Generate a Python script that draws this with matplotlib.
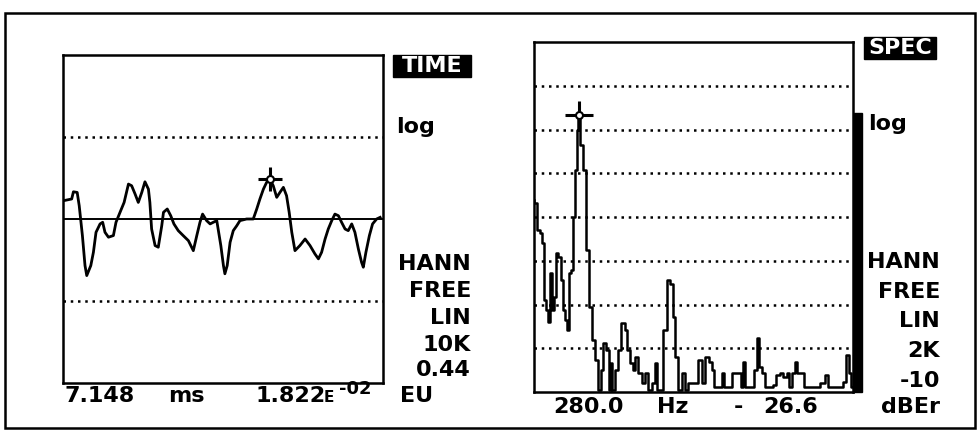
import numpy as np
import matplotlib
matplotlib.use("Agg")
import matplotlib.pyplot as plt
from matplotlib.patches import Rectangle

W, H = 977, 438

# time record: ms, normalised amplitude (full scale = 1)
t_ms = [0.00, 0.30, 0.36, 0.49, 0.56, 0.67, 0.76, 0.82, 0.96, 1.05, 1.14, 1.28,
        1.37, 1.45, 1.57, 1.74, 1.83, 1.97, 2.11, 2.26, 2.37, 2.49, 2.60, 2.72,
        2.83, 2.95, 3.00, 3.06, 3.18, 3.29, 3.41, 3.47, 3.60, 3.72, 3.83, 3.98,
        4.15, 4.33, 4.50, 4.62, 4.73, 4.82, 4.96, 5.08, 5.19, 5.31, 5.45, 5.54,
        5.59, 5.67, 5.77, 5.88, 6.00, 6.11, 6.34, 6.57, 6.69, 6.80, 6.92, 7.03,
        7.148, 7.26, 7.38, 7.49, 7.61, 7.72, 7.81, 7.90, 8.01, 8.18, 8.36, 8.53,
        8.70, 8.82, 8.93, 9.05, 9.16, 9.28, 9.39, 9.51, 9.62, 9.74, 9.85, 9.97,
        10.08, 10.20, 10.31, 10.37, 10.46, 10.58, 10.69, 10.83, 10.95]
amp = [0.111, 0.122, 0.166, 0.162, 0.081, -0.101, -0.284, -0.345, -0.284, -0.203,
       -0.081, -0.030, -0.020, -0.081, -0.111, -0.101, -0.020, 0.041, 0.101, 0.213,
       0.203, 0.152, 0.101, 0.162, 0.227, 0.182, 0.101, -0.061, -0.162, -0.172,
       -0.041, 0.041, 0.061, 0.020, -0.030, -0.071, -0.101, -0.132, -0.193, -0.101,
       -0.020, 0.030, -0.010, -0.030, -0.020, -0.010, -0.162, -0.284, -0.334, -0.284,
       -0.142, -0.071, -0.041, -0.010, 0.000, 0.000, 0.061, 0.122, 0.182, 0.223,
       0.243, 0.203, 0.132, 0.162, 0.193, 0.142, 0.041, -0.081, -0.193, -0.162,
       -0.122, -0.162, -0.213, -0.243, -0.203, -0.122, -0.061, -0.010, 0.030, 0.020,
       -0.020, -0.061, -0.071, -0.030, -0.081, -0.183, -0.264, -0.294, -0.203, -0.101,
       -0.030, 0.000, 0.010]

# spectrum: Hz, dBEr
freq_hz = [0, 6, 27, 48, 58, 69, 80, 90, 105, 117, 132, 142, 159, 174, 184, 201,
           215, 226, 243, 251, 263, 272, 280, 300, 320, 334, 356, 372, 393, 414,
           424, 439, 460, 476, 487, 497, 519, 539, 556, 581, 591, 613, 627, 644,
           665, 685, 707, 727, 748, 769, 779, 801, 821, 842, 863, 878, 895, 915,
           936, 953, 978, 1020, 1041, 1062, 1087, 1104, 1124, 1135, 1166, 1187,
           1198, 1229, 1260, 1292, 1302, 1317, 1334, 1365, 1396, 1406, 1417, 1438,
           1455, 1480, 1511, 1526, 1553, 1574, 1595, 1605, 1626, 1643, 1657, 1689,
           1699, 1730, 1773, 1814, 1835, 1856, 1898, 1929, 1950, 1964, 1981, 1996]
level_db = [-46.0, -46.9, -53.0, -53.7, -56.0, -69.0, -71.3, -73.9, -62.9, -71.3,
            -68.2, -58.3, -59.1, -64.4, -71.3, -73.6, -75.8, -62.9, -62.2, -49.9,
            -39.3, -30.1, -26.6, -33.5, -39.3, -57.5, -70.5, -78.1, -82.7, -89.6,
            -85.0, -78.9, -80.4, -89.6, -83.4, -89.6, -85.0, -80.4, -74.3, -75.8,
            -80.4, -83.4, -85.0, -81.9, -85.7, -88.0, -85.7, -89.6, -88.0, -83.4,
            -89.6, -89.6, -75.8, -64.4, -65.2, -72.8, -81.9, -89.6, -85.7, -89.6,
            -88.0, -88.0, -82.7, -88.0, -81.9, -83.1, -85.0, -88.8, -88.8, -85.7,
            -88.8, -88.8, -85.7, -85.7, -88.8, -83.1, -88.8, -88.8, -85.0, -77.7,
            -84.2, -85.7, -88.8, -88.8, -88.4, -86.1, -85.7, -86.5, -85.7, -88.8,
            -85.7, -83.1, -85.7, -85.7, -88.8, -88.9, -88.9, -88.0, -86.1, -88.8,
            -88.8, -88.8, -87.7, -81.6, -85.7, -88.8]

cursor_t, cursor_amp = 7.148, 0.243
cursor_f, cursor_db = 280.0, -26.6

left_labels = ["HANN", "FREE", "LIN", "10K", "0.44"]
right_labels = ["HANN", "FREE", "LIN", "2K", "-10"]

plt.rcParams['font.family'] = 'DejaVu Sans'
plt.rcParams['font.weight'] = 'bold'
FS = 16


def fx(px):
    return px / W


def fy(py):
    return 1 - py / H


def box(ax):
    ax.set_xticks([])
    ax.set_yticks([])
    for s in ax.spines.values():
        s.set_linewidth(1.8)
        s.set_color('black')


fig = plt.figure(figsize=(W / 100, H / 100), dpi=100)

# outer frame
fig.patches.append(Rectangle((fx(5), fy(428)), fx(970), (428 - 13) / H,
                             transform=fig.transFigure, fill=False,
                             edgecolor='black', linewidth=1.8))

dots = (0, (1, 1.9))

# time panel
ax1 = fig.add_axes([fx(63), fy(383), fx(320), (383 - 55) / H])
box(ax1)
ax1.set_xlim(0, 11.05)
ax1.set_ylim(-1, 1)
for yv in (-0.5, 0.5):
    ax1.axhline(yv, color='black', linestyle=dots, linewidth=1.8)
ax1.axhline(0, color='black', linewidth=1.4)
ax1.plot(t_ms, amp, color='black', linewidth=2)
ax1.plot(cursor_t, cursor_amp, marker='+', markersize=17, mew=2.2, color='black')
ax1.plot(cursor_t, cursor_amp, marker='o', markersize=5, mew=1.5,
         mfc='white', mec='black')

# spectrum panel
ax2 = fig.add_axes([fx(534), fy(392), fx(319), (392 - 42) / H])
box(ax2)
ax2.set_xlim(0, 2000)
ax2.set_ylim(-90, -10)
for yv in range(-80, -10, 10):
    ax2.axhline(yv, color='black', linestyle=dots, linewidth=1.8)
ax2.plot(freq_hz, level_db, color='black', linewidth=1.8, drawstyle='steps-mid')
ax2.plot(cursor_f, cursor_db, marker='+', markersize=20, mew=2.2, color='black')
ax2.plot(cursor_f, cursor_db, marker='o', markersize=5, mew=1.5,
         mfc='white', mec='black')

# level bar at right of spectrum
fig.patches.append(Rectangle((fx(854), fy(392)), fx(8), (392 - 113) / H,
                             transform=fig.transFigure, color='black'))

# inverse-video titles
fig.patches.append(Rectangle((fx(393), fy(77)), fx(78), 22 / H,
                             transform=fig.transFigure, color='black'))
fig.text(fx(432), fy(66), "TIME", color='white', fontsize=FS, ha='center',
         va='center')
fig.patches.append(Rectangle((fx(864), fy(59)), fx(72), 22 / H,
                             transform=fig.transFigure, color='black'))
fig.text(fx(900), fy(48), "SPEC", color='white', fontsize=FS, ha='center',
         va='center')

fig.text(fx(396), fy(127), "log", fontsize=FS, ha='left', va='center')
fig.text(fx(868), fy(124), "log", fontsize=FS, ha='left', va='center')

rows_left = [264, 291, 318, 345, 370]
for lab, yy in zip(left_labels, rows_left):
    fig.text(fx(471), fy(yy), lab, fontsize=FS, ha='right', va='center')
rows_right = [262, 292, 321, 351, 381]
for lab, yy in zip(right_labels, rows_right):
    fig.text(fx(940), fy(yy), lab, fontsize=FS, ha='right', va='center')

# cursor readouts
fig.text(fx(65), fy(396), f"{cursor_t:.3f}", fontsize=FS, ha='left', va='center')
fig.text(fx(168), fy(396), "ms", fontsize=FS, ha='left', va='center')
fig.text(fx(255), fy(396), "1.822", fontsize=FS, ha='left', va='center')
fig.text(fx(324), fy(398), "E", fontsize=11, ha='left', va='center')
fig.text(fx(339), fy(389), "-02", fontsize=13, ha='left', va='center')
fig.text(fx(433), fy(396), "EU", fontsize=FS, ha='right', va='center')

fig.text(fx(553), fy(407), f"{cursor_f:.1f}", fontsize=FS, ha='left', va='center')
fig.text(fx(657), fy(407), "Hz", fontsize=FS, ha='left', va='center')
fig.text(fx(738), fy(407), "-", fontsize=FS, ha='center', va='center')
fig.text(fx(763), fy(407), f"{-cursor_db:.1f}", fontsize=FS, ha='left', va='center')
fig.text(fx(940), fy(407), "dBEr", fontsize=FS, ha='right', va='center')

fig.savefig("out.png", dpi=100)
